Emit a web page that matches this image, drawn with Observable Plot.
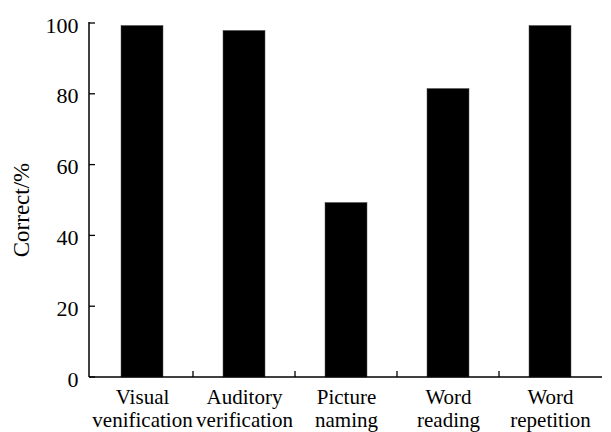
<!DOCTYPE html>
<html>
<head>
<meta charset="utf-8">
<script src="https://cdn.jsdelivr.net/npm/d3@7"></script>
<script src="https://cdn.jsdelivr.net/npm/@observablehq/plot@0.6"></script>
<style>
  html, body { margin: 0; padding: 0; background: white; }
</style>
</head>
<body>
<div id="chart"></div>
<script>
const categories = ["Visual\nvenification", "Auditory\nverification", "Picture\nnaming", "Word\nreading", "Word\nrepetition"];
const values = [99.3, 97.9, 49.3, 81.5, 99.3];
const yTicks = [0, 20, 40, 60, 80, 100];
const yLabel = "Correct/%";

const data = categories.map((c, i) => ({cat: c, value: values[i]}));

const W = 611, H = 432;
const mL = 89, mR = 9, mT = 23, mB = 55;
const tick = 6;
const font = "'Liberation Serif', 'Times New Roman', serif";

// axis lines, inward ticks and y-axis label drawn from Plot's own scales
function axes(index, scales, values, dimensions) {
  const {x, y} = scales;
  const {width, height, marginLeft, marginRight, marginTop, marginBottom} = dimensions;
  const x0 = marginLeft, x1 = width - marginRight;
  const y0 = y(0), yTop = y(100);
  const g = d3.create("svg:g").attr("stroke", "black").attr("fill", "none");
  g.append("line").attr("x1", x0).attr("x2", x0).attr("y1", yTop - 1).attr("y2", y0).attr("stroke-width", 1.5);
  g.append("line").attr("x1", x0).attr("x2", x1).attr("y1", y0).attr("y2", y0).attr("stroke-width", 1.5);
  for (const t of yTicks) {
    g.append("line").attr("x1", x0).attr("x2", x0 + tick).attr("y1", y(t)).attr("y2", y(t)).attr("stroke-width", 1.3);
  }
  const step = x.step();
  for (const c of categories.slice(1)) {
    const bx = x(c) - (step - x.bandwidth()) / 2;
    g.append("line").attr("x1", bx).attr("x2", bx).attr("y1", y0).attr("y2", y0 - tick).attr("stroke-width", 1.3);
  }
  g.append("text")
    .attr("stroke", "none").attr("fill", "black")
    .attr("font-family", font).attr("font-size", 23)
    .attr("text-anchor", "middle")
    .attr("transform", `translate(${x0 - 60},${(y0 + yTop) / 2 + 10}) rotate(-90)`)
    .text(yLabel);
  return g.node();
}

const chart = Plot.plot({
  width: W, height: H,
  marginLeft: mL, marginRight: mR, marginTop: mT, marginBottom: mB,
  style: {fontFamily: font, fontSize: "21px", color: "black", background: "white"},
  x: {domain: categories, paddingInner: 0.59, paddingOuter: 0.295, axis: null},
  y: {domain: [0, 100], axis: null},
  marks: [
    Plot.barY(data, {x: "cat", y: "value", fill: "black", stroke: "#555", strokeWidth: 0.5}),
    axes,
    // y tick labels
    Plot.text(yTicks, {y: d => d, text: d => String(d), frameAnchor: "left", textAnchor: "end", dx: -11, dy: 2, fontSize: 22}),
    // x tick labels
    Plot.text(categories, {x: d => d, text: d => d, frameAnchor: "bottom", lineAnchor: "top", dy: 10, lineHeight: 1.1, fontSize: 21})
  ]
});
document.getElementById("chart").appendChild(chart);
</script>
</body>
</html>
